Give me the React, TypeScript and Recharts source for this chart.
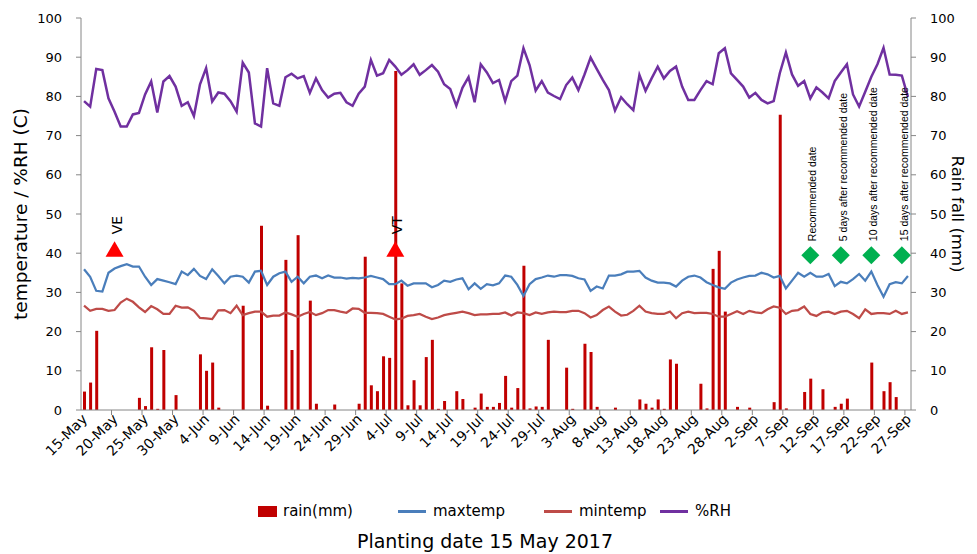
import React from 'react';
import { ComposedChart, Bar, Line, XAxis, YAxis } from 'recharts';

// daily weather, 15 May - 27 Sep 2017
const dates = [
  '15-May', '16-May', '17-May', '18-May', '19-May', '20-May', '21-May', '22-May', '23-May', '24-May',
  '25-May', '26-May', '27-May', '28-May', '29-May', '30-May', '31-May',
  '1-Jun', '2-Jun', '3-Jun', '4-Jun', '5-Jun', '6-Jun', '7-Jun', '8-Jun', '9-Jun', '10-Jun',
  '11-Jun', '12-Jun', '13-Jun', '14-Jun', '15-Jun', '16-Jun', '17-Jun', '18-Jun', '19-Jun', '20-Jun',
  '21-Jun', '22-Jun', '23-Jun', '24-Jun', '25-Jun', '26-Jun', '27-Jun', '28-Jun', '29-Jun', '30-Jun',
  '1-Jul', '2-Jul', '3-Jul', '4-Jul', '5-Jul', '6-Jul', '7-Jul', '8-Jul', '9-Jul', '10-Jul',
  '11-Jul', '12-Jul', '13-Jul', '14-Jul', '15-Jul', '16-Jul', '17-Jul', '18-Jul', '19-Jul', '20-Jul',
  '21-Jul', '22-Jul', '23-Jul', '24-Jul', '25-Jul', '26-Jul', '27-Jul', '28-Jul', '29-Jul', '30-Jul', '31-Jul',
  '1-Aug', '2-Aug', '3-Aug', '4-Aug', '5-Aug', '6-Aug', '7-Aug', '8-Aug', '9-Aug', '10-Aug',
  '11-Aug', '12-Aug', '13-Aug', '14-Aug', '15-Aug', '16-Aug', '17-Aug', '18-Aug', '19-Aug', '20-Aug',
  '21-Aug', '22-Aug', '23-Aug', '24-Aug', '25-Aug', '26-Aug', '27-Aug', '28-Aug', '29-Aug', '30-Aug', '31-Aug',
  '1-Sep', '2-Sep', '3-Sep', '4-Sep', '5-Sep', '6-Sep', '7-Sep', '8-Sep', '9-Sep', '10-Sep',
  '11-Sep', '12-Sep', '13-Sep', '14-Sep', '15-Sep', '16-Sep', '17-Sep', '18-Sep', '19-Sep', '20-Sep',
  '21-Sep', '22-Sep', '23-Sep', '24-Sep', '25-Sep', '26-Sep', '27-Sep',
];

const rain = [
  4.7, 7.0, 20.2, 0, 0, 0, 0, 0, 0, 3.1,
  1.0, 16.0, 0.3, 15.3, 0, 3.8, 0, 0, 0, 14.2,
  10.0, 12.1, 0.6, 0, 0, 0, 26.6, 0, 0, 47.0,
  1.1, 0, 0, 38.3, 15.3, 44.6, 0, 27.9, 1.6, 0,
  0, 1.4, 0, 0, 0, 1.6, 39.1, 6.3, 4.8, 13.7,
  13.3, 86.5, 32.3, 1.2, 7.6, 1.2, 13.5, 17.9, 0.3, 2.3,
  0, 4.8, 2.8, 0, 0.6, 4.2, 0.8, 0.8, 1.8, 8.7,
  0.6, 5.6, 36.8, 0.4, 0.9, 0.8, 17.9, 0, 0, 10.8,
  0.3, 0, 16.9, 14.8, 0.8, 0, 0, 0.6, 0, 0,
  0, 2.7, 1.6, 0.6, 2.7, 0.3, 12.9, 11.8, 0, 0,
  0, 6.7, 0.4, 36.0, 40.6, 25.1, 0, 0.8, 0, 0.6,
  0, 0, 0, 2.0, 75.3, 0.4, 0, 0, 4.6, 8.0,
  0, 5.3, 0, 0.8, 1.6, 2.9, 0, 0, 0, 12.1,
  0, 4.8, 7.1, 3.3, 0, 0,
];

const maxtemp = [
  35.9, 34.0, 30.4, 30.2, 35.0, 36.1, 36.7, 37.2, 36.6, 36.6,
  34.0, 31.9, 33.4, 33.0, 32.6, 32.1, 35.3, 34.4, 36.0, 34.2,
  33.4, 35.9, 34.2, 32.3, 34.0, 34.3, 34.0, 32.5, 35.3, 35.5,
  31.9, 34.0, 34.9, 35.3, 32.7, 34.0, 32.3, 34.0, 34.3, 33.6,
  34.3, 33.8, 33.8, 33.5, 33.7, 33.6, 33.8, 34.2, 33.8, 33.4,
  32.1, 32.1, 33.0, 31.7, 32.3, 32.3, 32.3, 31.3, 31.9, 33.0,
  32.7, 33.3, 33.6, 30.8, 32.3, 30.9, 32.1, 31.8, 32.3, 34.3,
  34.0, 31.9, 29.1, 32.1, 33.4, 33.8, 34.3, 34.0, 34.4, 34.4,
  34.2, 33.6, 33.3, 30.4, 31.5, 31.0, 34.3, 34.3, 34.6, 35.3,
  35.3, 35.5, 33.8, 33.0, 32.5, 32.5, 32.3, 31.5, 33.0, 34.0,
  34.3, 33.8, 32.6, 31.9, 31.3, 30.9, 32.5, 33.3, 33.8, 34.2,
  34.3, 35.0, 34.6, 33.8, 34.2, 31.0, 33.0, 35.0, 34.0, 35.0,
  34.0, 34.0, 34.7, 31.6, 32.7, 32.3, 33.4, 34.7, 33.0, 35.3,
  31.9, 28.9, 32.1, 32.6, 32.3, 34.2,
];

const mintemp = [
  26.6, 25.3, 25.8, 25.8, 25.3, 25.5, 27.4, 28.4, 27.6, 26.2,
  25.0, 26.5, 25.7, 24.5, 24.5, 26.6, 26.1, 26.2, 25.3, 23.5,
  23.4, 23.2, 25.4, 25.5, 24.7, 26.6, 24.2, 24.7, 25.1, 25.1,
  23.8, 24.1, 24.1, 24.9, 24.4, 23.8, 24.5, 25.0, 24.2, 24.7,
  25.5, 25.5, 25.1, 24.8, 25.9, 25.8, 24.8, 24.8, 24.7, 24.5,
  23.8, 23.1, 23.3, 24.0, 24.2, 24.5, 23.8, 23.2, 23.6, 24.2,
  24.5, 24.8, 25.1, 24.7, 24.2, 24.4, 24.4, 24.5, 24.5, 24.9,
  24.1, 24.9, 24.7, 24.2, 24.9, 24.5, 24.9, 25.1, 25.0, 25.0,
  25.3, 25.3, 24.7, 23.6, 24.2, 25.5, 26.4, 25.1, 24.1, 24.3,
  25.3, 26.6, 25.1, 24.7, 24.5, 24.5, 25.1, 23.4, 24.7, 25.1,
  24.7, 24.8, 24.8, 24.5, 23.8, 23.8, 24.5, 25.2, 24.5, 25.3,
  24.9, 24.7, 25.7, 26.4, 26.1, 24.5, 25.3, 25.5, 26.4, 24.5,
  24.0, 24.9, 25.1, 24.5, 25.1, 25.3, 24.5, 23.4, 25.7, 24.5,
  24.7, 24.7, 24.5, 25.3, 24.5, 24.9,
];

const rh = [
  78.8, 77.4, 87.0, 86.7, 79.5, 76.1, 72.3, 72.3, 75.4, 75.8,
  80.5, 83.8, 75.9, 83.8, 85.2, 82.5, 77.6, 78.5, 75.0, 83.1,
  87.2, 78.7, 81.0, 80.7, 78.8, 76.1, 88.6, 86.1, 73.1, 72.3,
  87.2, 78.2, 77.6, 84.9, 85.8, 84.6, 85.2, 80.9, 84.6, 81.6,
  79.7, 80.7, 80.9, 78.5, 77.6, 80.7, 82.5, 89.3, 85.3, 85.9,
  89.3, 87.6, 85.5, 86.7, 88.2, 85.5, 86.7, 88.0, 86.3, 83.1,
  81.9, 77.6, 82.2, 84.9, 78.5, 88.2, 86.1, 83.4, 84.2, 78.8,
  83.9, 85.3, 92.3, 88.0, 81.5, 83.9, 81.0, 80.1, 79.3, 82.9,
  84.8, 81.6, 85.6, 89.9, 87.0, 84.2, 81.6, 76.4, 79.8, 78.0,
  76.5, 85.5, 81.4, 84.6, 87.6, 84.6, 86.5, 87.6, 82.5, 79.1,
  79.1, 81.6, 83.9, 83.1, 91.0, 92.3, 85.9, 84.2, 82.5, 79.7,
  80.9, 79.1, 78.2, 78.8, 85.9, 91.2, 85.6, 82.7, 83.9, 79.5,
  82.3, 81.0, 79.5, 83.9, 86.1, 88.2, 80.5, 77.4, 81.2, 85.0,
  88.2, 92.4, 85.6, 85.5, 85.3, 79.9,
];

// growth stages (red triangles)
const stageDates = ['20-May', '5-Jul'];
const stageNames = ['VE', 'VT'];
const stageLevel = 41;

// planting dates (green diamonds)
const plantDates = ['11-Sep', '16-Sep', '21-Sep', '26-Sep'];
const plantNames = [
  'Recommended date',
  '5 days after recommended date',
  '10 days after recommended date',
  '15 days after recommended date',
];
const plantLevel = 39.5;

const yTicks = [0, 10, 20, 30, 40, 50, 60, 70, 80, 90, 100];

const data = dates.map((date, i) => {
  const s = stageDates.indexOf(date);
  const p = plantDates.indexOf(date);
  return {
    date,
    rain: rain[i],
    maxtemp: maxtemp[i],
    mintemp: mintemp[i],
    rh: rh[i],
    stage: s >= 0 ? stageLevel : null,
    stageName: s >= 0 ? stageNames[s] : '',
    plant: p >= 0 ? plantLevel : null,
    plantName: p >= 0 ? plantNames[p] : '',
  };
});

const FONT = "'DejaVu Sans', sans-serif";
const AXIS = '#868686';
const HALF_BAND = 3.05;

const DateTick = (props: any) => {
  const { x, y, payload } = props;
  return (
    <g>
      {payload.value !== dates[0] && (
        <line x1={x - HALF_BAND} y1={y} x2={x - HALF_BAND} y2={y + 5} stroke={AXIS} />
      )}
      <text
        x={x + 4}
        y={y + 10}
        transform={`rotate(-45 ${x + 4} ${y + 10})`}
        textAnchor="end"
        fontSize={14}
        fill="#000"
      >
        {payload.value}
      </text>
    </g>
  );
};

const StageDot = (props: any) => {
  const { cx, cy, payload, index } = props;
  if (payload.stage == null || cy == null) return <g key={index} />;
  return (
    <g key={index}>
      <polygon points={`${cx},${cy - 8} ${cx - 9},${cy + 7.5} ${cx + 9},${cy + 7.5}`} fill="#FF0000" />
      <text transform={`translate(${cx + 7},${cy - 15}) rotate(-90)`} fontSize={14} fill="#000">
        {payload.stageName}
      </text>
    </g>
  );
};

const PlantDot = (props: any) => {
  const { cx, cy, payload, index } = props;
  if (payload.plant == null || cy == null) return <g key={index} />;
  return (
    <g key={index}>
      <polygon points={`${cx},${cy - 9} ${cx + 9},${cy} ${cx},${cy + 9} ${cx - 9},${cy}`} fill="#00B050" />
      <text
        transform={`translate(${cx + 6},${cy - 14}) rotate(-90)`}
        fontSize={10.5}
        fontFamily="'Liberation Sans', sans-serif"
        fill="#000"
      >
        {payload.plantName}
      </text>
    </g>
  );
};

const legendItems = [
  { name: 'rain(mm)', color: '#C00000', box: true, left: 250 },
  { name: 'maxtemp', color: '#4A7EBB', box: false, left: 390 },
  { name: 'mintemp', color: '#BE4B48', box: false, left: 536 },
  { name: '%RH', color: '#7030A0', box: false, left: 652 },
];

export default function App() {
  return (
    <div style={{ position: 'relative', width: 961, height: 546, fontFamily: FONT, background: '#fff' }}>
      <ComposedChart width={961} height={470} data={data} margin={{ top: 10, right: 0, bottom: 0, left: 0 }}>
        <XAxis
          dataKey="date"
          interval={4}
          height={68}
          tickSize={0}
          tickMargin={0}
          tickLine={false}
          axisLine={{ stroke: AXIS }}
          tick={<DateTick />}
        />
        <YAxis
          yAxisId="left"
          domain={[0, 100]}
          ticks={yTicks}
          width={73}
          tickSize={5}
          tickMargin={14}
          axisLine={{ stroke: AXIS }}
          tickLine={{ stroke: AXIS }}
          tick={{ fontSize: 13, fill: '#000' }}
          label={{
            content: (p: any) => {
              const vb = p.viewBox;
              const cy = vb.y + vb.height / 2;
              return (
                <text transform={`translate(19,${cy}) rotate(-90)`} textAnchor="middle" fontSize={18.5} fill="#000">
                  temperature / %RH (C)
                </text>
              );
            },
          }}
        />
        <YAxis
          yAxisId="right"
          orientation="right"
          domain={[0, 100]}
          ticks={yTicks}
          width={58}
          tickSize={5}
          tickMargin={14}
          axisLine={{ stroke: AXIS }}
          tickLine={{ stroke: AXIS }}
          tick={{ fontSize: 13, fill: '#000' }}
          label={{
            content: (p: any) => {
              const vb = p.viewBox;
              const cy = vb.y + vb.height / 2;
              return (
                <text transform={`translate(944,${cy}) rotate(90)`} textAnchor="middle" fontSize={16.5} fill="#000">
                  Rain fall  (mm)
                </text>
              );
            },
          }}
        />
        <Bar yAxisId="right" dataKey="rain" fill="#C00000" barSize={3} isAnimationActive={false} />
        <Line yAxisId="left" dataKey="maxtemp" stroke="#4A7EBB" strokeWidth={2.25} dot={false} isAnimationActive={false} />
        <Line yAxisId="left" dataKey="mintemp" stroke="#BE4B48" strokeWidth={2.25} dot={false} isAnimationActive={false} />
        <Line yAxisId="left" dataKey="rh" stroke="#7030A0" strokeWidth={2.5} dot={false} isAnimationActive={false} />
        <Line
          yAxisId="left"
          dataKey="stage"
          stroke="none"
          dot={<StageDot />}
          activeDot={false}
          legendType="none"
          isAnimationActive={false}
        />
        <Line
          yAxisId="left"
          dataKey="plant"
          stroke="none"
          dot={<PlantDot />}
          activeDot={false}
          legendType="none"
          isAnimationActive={false}
        />
      </ComposedChart>

      {legendItems.map((item) => (
        <div
          key={item.name}
          style={{ position: 'absolute', left: item.left, top: 494, display: 'flex', alignItems: 'center', fontSize: 15 }}
        >
          {item.box ? (
            <span style={{ display: 'inline-block', width: 19, height: 11, background: item.color, marginRight: 6 }} />
          ) : (
            <span style={{ display: 'inline-block', width: 28, height: 3, background: item.color, marginRight: 7 }} />
          )}
          <span>{item.name}</span>
        </div>
      ))}
      <div style={{ position: 'absolute', left: 0, width: 954, top: 522, textAlign: 'center', fontSize: 19 }}>
        Planting date 15 May 2017
      </div>
    </div>
  );
}
